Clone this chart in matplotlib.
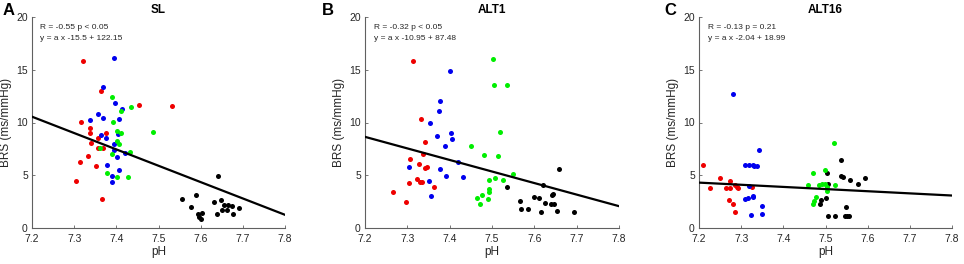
import matplotlib

matplotlib.use("Agg")
import matplotlib.pyplot as plt
import numpy as np

plt.rcParams["font.family"] = ["Liberation Sans", "DejaVu Sans"]

# ---- panel A (SL) ----
a_red_x = [7.322, 7.363, 7.317, 7.338, 7.338, 7.376, 7.357, 7.340, 7.356, 7.368, 7.332, 7.315, 7.351, 7.304, 7.365, 7.453, 7.531]
a_red_y = [15.86, 13.02, 10.05, 9.45, 8.97, 9.04, 8.56, 8.09, 7.55, 7.55, 6.82, 6.26, 5.85, 4.42, 2.72, 11.69, 11.60]
a_blue_x = [7.394, 7.368, 7.398, 7.413, 7.357, 7.338, 7.368, 7.407, 7.364, 7.375, 7.403, 7.394, 7.395, 7.421, 7.402, 7.379, 7.406, 7.390, 7.390]
a_blue_y = [16.10, 13.40, 11.88, 11.31, 10.84, 10.24, 10.43, 10.33, 8.85, 8.56, 8.88, 7.96, 7.39, 7.14, 6.73, 6.00, 5.50, 4.96, 4.36]
a_green_x = [7.390, 7.411, 7.434, 7.391, 7.402, 7.410, 7.486, 7.401, 7.407, 7.361, 7.389, 7.432, 7.379, 7.402, 7.428]
a_green_y = [12.45, 11.09, 11.44, 10.05, 9.19, 9.04, 9.10, 8.28, 7.99, 7.55, 7.00, 7.20, 5.25, 4.80, 4.87]
a_black_x = [7.556, 7.588, 7.578, 7.594, 7.597, 7.600, 7.602, 7.631, 7.640, 7.648, 7.656, 7.666, 7.650, 7.663, 7.639, 7.675, 7.676, 7.691]
a_black_y = [2.72, 3.10, 2.00, 1.30, 1.05, 0.90, 1.40, 2.47, 4.95, 2.62, 2.18, 2.18, 1.70, 1.70, 1.33, 2.05, 1.30, 1.88]

# ---- panel B (ALT1) ----
b_red_x = [7.265, 7.297, 7.305, 7.306, 7.313, 7.323, 7.328, 7.331, 7.335, 7.332, 7.336, 7.341, 7.341, 7.346, 7.362]
b_red_y = [3.45, 2.50, 4.23, 6.50, 15.86, 4.68, 6.10, 4.39, 4.36, 10.36, 7.05, 8.12, 5.66, 5.78, 3.92]
b_blue_x = [7.401, 7.378, 7.374, 7.354, 7.403, 7.405, 7.369, 7.389, 7.420, 7.305, 7.376, 7.391, 7.431, 7.351, 7.355]
b_blue_y = [14.85, 12.04, 11.12, 9.98, 9.00, 8.47, 8.72, 7.77, 6.26, 5.78, 5.59, 4.90, 4.83, 4.42, 3.00]
b_green_x = [7.503, 7.505, 7.535, 7.520, 7.450, 7.481, 7.513, 7.550, 7.527, 7.508, 7.492, 7.494, 7.493, 7.476, 7.490, 7.464, 7.472]
b_green_y = [16.05, 13.59, 13.52, 9.13, 7.77, 6.95, 6.82, 5.09, 4.58, 4.77, 4.58, 3.70, 3.38, 3.13, 2.72, 2.84, 2.24]
b_black_x = [7.658, 7.621, 7.535, 7.645, 7.641, 7.599, 7.612, 7.625, 7.639, 7.647, 7.565, 7.568, 7.584, 7.615, 7.653, 7.694]
b_black_y = [5.56, 4.04, 3.92, 3.22, 3.10, 2.97, 2.84, 2.34, 2.27, 2.31, 2.53, 1.77, 1.83, 1.55, 1.64, 1.49]

# ---- panel C (ALT16) ----
c_red_x = [7.210, 7.249, 7.273, 7.226, 7.263, 7.274, 7.286, 7.289, 7.292, 7.325, 7.270, 7.281, 7.285]
c_red_y = [5.94, 4.77, 4.49, 3.82, 3.82, 3.82, 4.08, 3.85, 3.82, 3.89, 2.69, 2.24, 1.52]
c_blue_x = [7.281, 7.342, 7.308, 7.319, 7.327, 7.331, 7.338, 7.318, 7.308, 7.316, 7.327, 7.329, 7.350, 7.349, 7.323]
c_blue_y = [12.67, 7.43, 5.94, 6.00, 5.94, 5.88, 5.91, 3.98, 2.75, 2.81, 3.03, 2.91, 2.12, 1.36, 1.23]
c_green_x = [7.519, 7.470, 7.498, 7.458, 7.485, 7.491, 7.498, 7.522, 7.504, 7.504, 7.477, 7.473, 7.470]
c_green_y = [8.06, 5.21, 5.50, 4.04, 4.04, 4.14, 4.20, 4.08, 3.51, 3.85, 2.91, 2.56, 2.30]
c_black_x = [7.536, 7.504, 7.536, 7.542, 7.557, 7.578, 7.593, 7.505, 7.501, 7.490, 7.488, 7.548, 7.506, 7.523, 7.546, 7.552, 7.556]
c_black_y = [6.41, 5.25, 4.90, 4.87, 4.58, 4.14, 4.77, 4.20, 2.87, 2.65, 2.24, 1.99, 1.17, 1.11, 1.11, 1.11, 1.11]

titles = ["SL", "ALT1", "ALT16"]
letters = ["A", "B", "C"]
slopes = [-15.5, -10.95, -2.04]
intercepts = [122.15, 87.48, 18.99]
stats = ["R = -0.55 p < 0.05", "R = -0.32 p < 0.05", "R = -0.13 p = 0.21"]
fits = ["y = a x -15.5 + 122.15", "y = a x -10.95 + 87.48", "y = a x -2.04 + 18.99"]
xticks = [7.2, 7.3, 7.4, 7.5, 7.6, 7.7, 7.8]
yticks = [0, 5, 10, 15, 20]

panels = [
    (a_red_x, a_red_y, a_blue_x, a_blue_y, a_green_x, a_green_y, a_black_x, a_black_y),
    (b_red_x, b_red_y, b_blue_x, b_blue_y, b_green_x, b_green_y, b_black_x, b_black_y),
    (c_red_x, c_red_y, c_blue_x, c_blue_y, c_green_x, c_green_y, c_black_x, c_black_y),
]

fig = plt.figure(figsize=(9.64, 2.64), dpi=100)
W, H = 964, 264
lefts = [32, 365, 699]
widths = [253, 254, 253]
letter_x = [3, 322, 664]
text_x = [0.032, 0.037, 0.034]
axis_col = "#262626"
spine_col = "#606060"

for i, p in enumerate(panels):
    ax = fig.add_axes([lefts[i] / W, 36 / H, widths[i] / W, 211 / H])
    rx, ry, bx, by, gx, gy, kx, ky = p
    for xs, ys, c in [(kx, ky, "black"), (rx, ry, "#ee0000"), (bx, by, "#0000ee"), (gx, gy, "#00ee00")]:
        ax.scatter(xs, ys, s=13, color=c, linewidths=0, zorder=3)
    lx = np.array([7.2, 7.8])
    ax.plot(lx, slopes[i] * lx + intercepts[i], color="black", lw=1.6, zorder=4)
    ax.set_xlim(7.2, 7.8)
    ax.set_ylim(0, 20)
    ax.set_xticks(xticks)
    ax.set_yticks(yticks)
    ax.set_xticklabels([f"{v:.1f}" for v in xticks])
    ax.tick_params(direction="in", length=2.5, width=0.6, labelsize=7.5, color=spine_col,
                   labelcolor=axis_col, pad=3)
    ax.tick_params(axis="x", pad=4)
    for s in ["top", "right"]:
        ax.spines[s].set_visible(False)
    for s in ["left", "bottom"]:
        ax.spines[s].set_color(spine_col)
        ax.spines[s].set_linewidth(0.8)
    ax.set_xlabel("pH", fontsize=8.5, color=axis_col, labelpad=2)
    ax.set_ylabel("BRS (ms/mmHg)", fontsize=8.5, color=axis_col, labelpad=3)
    ax.set_title(titles[i], fontsize=8.5, fontweight="bold", pad=3)
    ax.text(text_x[i], 0.948, stats[i], transform=ax.transAxes, fontsize=6, va="center", color=axis_col)
    ax.text(text_x[i], 0.896, fits[i], transform=ax.transAxes, fontsize=6, va="center", color=axis_col)
    fig.text(letter_x[i] / W, 1 - 3 / H, letters[i], fontsize=12, fontweight="bold", va="top", ha="left")

fig.savefig("out.png", dpi=100)
plt.close(fig)
